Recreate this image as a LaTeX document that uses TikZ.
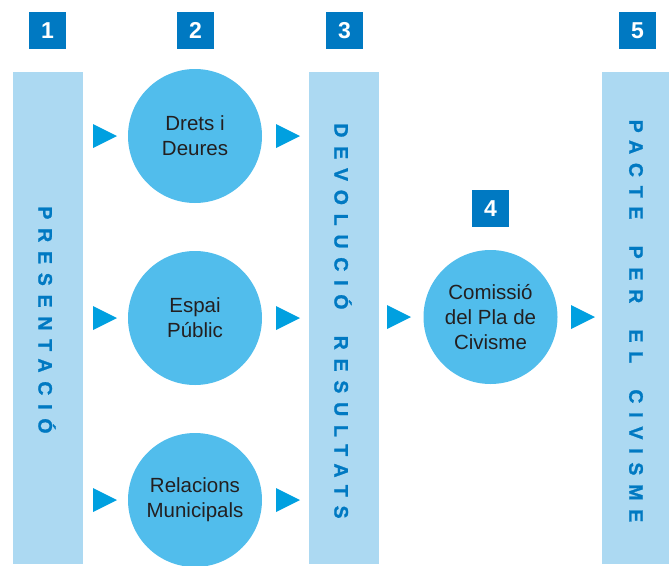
\documentclass[tikz,border=0pt]{standalone}
\usepackage{fontspec}
\setmainfont{Liberation Sans}
\newfontfamily\vfont[LetterSpace=45,FakeBold=1.2]{Liberation Sans Bold}
\usetikzlibrary{shapes.geometric}
\definecolor{numblue}{HTML}{0079C2}
\definecolor{barblue}{HTML}{ACD9F2}
\definecolor{circblue}{HTML}{51BDEC}
\definecolor{triblue}{HTML}{00A0E0}
\definecolor{textgray}{HTML}{231F20}
\newcommand\mytri[1]{\fill[triblue] (#1) ++(-12,-12) -- ++(24,12) -- ++(-24,12) -- cycle;}
\newcommand\wgap{\ \hspace{12pt}}
\begin{document}
\begin{tikzpicture}[x=1pt,y=-1pt,
  numbox/.style={fill=numblue, text=white, font=\fontsize{23}{23}\selectfont\bfseries, minimum size=37pt, inner sep=0pt},
  bar/.style={fill=barblue, minimum width=70pt, minimum height=492pt, inner sep=0pt},
  circ/.style={circle, fill=circblue, minimum size=134pt, inner sep=0pt, align=center, text=textgray, font=\fontsize{20.5}{25}\selectfont},
  vtext/.style={rotate=-90, text=numblue, font=\vfont\fontsize{19.5}{19.5}\selectfont, inner sep=0pt}]
\useasboundingbox (0,0) rectangle (669,565);
% number boxes
\node[numbox] (n1) at (47.5,30.5) {1};
\node[numbox] (n2) at (195.5,30.5) {2};
\node[numbox] (n3) at (344.5,30.5) {3};
\node[numbox] (n4) at (490.5,208.5) {4};
\node[numbox] (n5) at (637.5,30.5) {5};
% bars
\node[bar] (b1) at (48,318) {};
\node[bar] (b3) at (344,318) {};
\node[bar] (b5) at (637,318) {};
\node[vtext] (t1) at (47,320) {PRESENTACIÓ};
\node[vtext] (t3) at (343,321) {DEVOLUCIÓ\wgap RESULTATS};
\node[vtext] (t5) at (636,321) {PACTE\wgap PER\wgap EL\wgap CIVISME};
% circles
\node[circ] (c1) at (195,136) {Drets i\\Deures};
\node[circ] (c2) at (195,318) {Espai\\Públic};
\node[circ] (c3) at (195,500) {Relacions\\Municipals};
\node[circ] (c4) at (490.5,317) {Comissió\\del Pla de\\Civisme};
% triangles
\coordinate (a1) at (105,136);
\coordinate (a2) at (105,318);
\coordinate (a3) at (105,500);
\coordinate (d1) at (288,136);
\coordinate (d2) at (288,318);
\coordinate (d3) at (288,500);
\coordinate (e1) at (399,317);
\coordinate (e2) at (583,317);
\mytri{a1}\mytri{a2}\mytri{a3}
\mytri{d1}\mytri{d2}\mytri{d3}
\mytri{e1}\mytri{e2}
\end{tikzpicture}
\end{document}
